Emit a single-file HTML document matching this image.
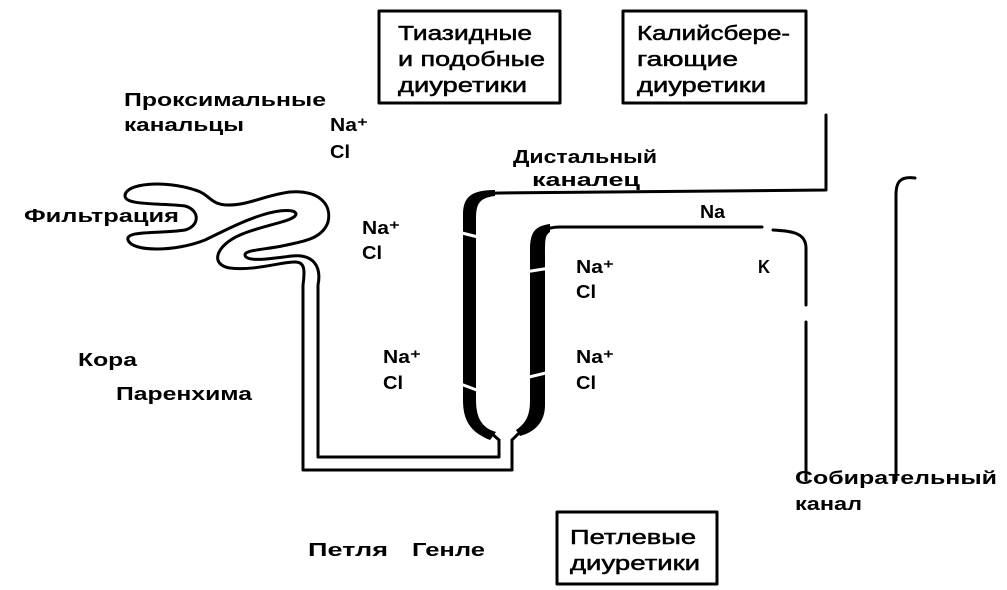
<!DOCTYPE html>
<html><head><meta charset="utf-8"><style>
html,body{margin:0;padding:0;background:#fff;}
svg{display:block;}
text{font-family:"Liberation Sans",sans-serif;fill:#000;}
.b{font-weight:bold;font-size:18px;}
.bx{font-size:20px;stroke:#000;stroke-width:0.5;}
</style></head><body>
<svg width="1007" height="590" viewBox="0 0 1007 590" xmlns="http://www.w3.org/2000/svg">
<g fill="none" stroke="#000" stroke-width="3" stroke-linejoin="round" stroke-linecap="round">
<rect x="379" y="11" width="181" height="92"/>
<rect x="623" y="11" width="183" height="92"/>
<rect x="557" y="512" width="160" height="72"/>
<path d="M195,190 C165,180 125,183 125,196 C125,206 165,203 185,206 C200,210 200,226 185,230 C160,234 125,230 128,240 C132,252 175,252 205,240 C222,232 240,222 262,215 C285,208 300,210 295,216 C290,222 260,226 240,235 C215,246 210,265 230,268 C255,271 280,262 295,262 C305,262 305,270 303,285 L303,470 L512,470 L512,440"/>
<path d="M195,190 C210,194 210,205 228,205 C250,205 265,195 290,192 C320,190 332,205 328,222 C322,240 300,242 282,246 C262,250 240,250 246,257 C252,262 275,258 292,256 C312,254 322,265 318,285 L318,457 L499,457 L499,440"/>
<path d="M499,440 L490,432 C470,425 468,410 468,395 L468,220 C468,198 478,193 500,193 L826,190 L826,115"/>
<path d="M512,440 L520,432 C535,425 538,410 538,395 L538,250 C538,232 545,227 560,227 L762,227"/>
<path d="M773,230 C790,231 806,232 806,248 L806,305 M806,322 L806,480"/>
<path d="M915,178 C900,176 896,182 896,195 L896,480"/>
</g>
<path d="M463,215 C463,198 470,190 495,190 L495,196 C478,198 476,205 476,220 L476,400 C476,418 482,428 496,432 L490,440 C470,432 463,420 463,400 Z" fill="#000"/>
<path d="M530,250 C530,232 535,226 550,224 L550,232 C545,235 545,240 545,255 L545,405 C545,422 535,432 520,436 L516,430 C528,422 530,412 530,400 Z" fill="#000"/>
<g stroke="#fff" stroke-width="3">
<line x1="458" y1="232" x2="482" y2="238"/>
<line x1="458" y1="383" x2="482" y2="392"/>
<line x1="525" y1="272" x2="550" y2="268"/>
<line x1="525" y1="378" x2="550" y2="372"/>
</g>
<text class="bx" x="398" y="40" textLength="134" lengthAdjust="spacingAndGlyphs">Тиазидные</text>
<text class="bx" x="398" y="66" textLength="147" lengthAdjust="spacingAndGlyphs">и подобные</text>
<text class="bx" x="398" y="92" textLength="129" lengthAdjust="spacingAndGlyphs">диуретики</text>
<text class="bx" x="637" y="40" textLength="153" lengthAdjust="spacingAndGlyphs">Калийсбере-</text>
<text class="bx" x="637" y="66" textLength="101" lengthAdjust="spacingAndGlyphs">гающие</text>
<text class="bx" x="637" y="92" textLength="129" lengthAdjust="spacingAndGlyphs">диуретики</text>
<text class="bx" x="570" y="544" textLength="126" lengthAdjust="spacingAndGlyphs">Петлевые</text>
<text class="bx" x="570" y="570" textLength="130" lengthAdjust="spacingAndGlyphs">диуретики</text>
<text class="b" x="124" y="106" textLength="202" lengthAdjust="spacingAndGlyphs">Проксимальные</text>
<text class="b" x="124" y="131" textLength="120" lengthAdjust="spacingAndGlyphs">канальцы</text>
<text class="b" x="330" y="131" textLength="38" lengthAdjust="spacingAndGlyphs">Na⁺</text>
<text class="b" x="330" y="158" textLength="20" lengthAdjust="spacingAndGlyphs">Cl</text>
<text class="b" x="513" y="163" textLength="144" lengthAdjust="spacingAndGlyphs">Дистальный</text>
<text class="b" x="532" y="186" textLength="108" lengthAdjust="spacingAndGlyphs">каналец</text>
<text class="b" x="24" y="222" textLength="155" lengthAdjust="spacingAndGlyphs">Фильтрация</text>
<text class="b" x="362" y="234" textLength="38" lengthAdjust="spacingAndGlyphs">Na⁺</text>
<text class="b" x="362" y="259" textLength="20" lengthAdjust="spacingAndGlyphs">Cl</text>
<text class="b" x="700" y="218" textLength="25" lengthAdjust="spacingAndGlyphs">Na</text>
<text class="b" x="576" y="273" textLength="38" lengthAdjust="spacingAndGlyphs">Na⁺</text>
<text class="b" x="576" y="298" textLength="20" lengthAdjust="spacingAndGlyphs">Cl</text>
<text class="b" x="758" y="273" textLength="12" lengthAdjust="spacingAndGlyphs">K</text>
<text class="b" x="78" y="366" textLength="59" lengthAdjust="spacingAndGlyphs">Кора</text>
<text class="b" x="116" y="400" textLength="136" lengthAdjust="spacingAndGlyphs">Паренхима</text>
<text class="b" x="383" y="363" textLength="38" lengthAdjust="spacingAndGlyphs">Na⁺</text>
<text class="b" x="383" y="389" textLength="20" lengthAdjust="spacingAndGlyphs">Cl</text>
<text class="b" x="576" y="363" textLength="38" lengthAdjust="spacingAndGlyphs">Na⁺</text>
<text class="b" x="576" y="389" textLength="20" lengthAdjust="spacingAndGlyphs">Cl</text>
<text class="b" x="795" y="484" textLength="202" lengthAdjust="spacingAndGlyphs">Собирательный</text>
<text class="b" x="795" y="510" textLength="67" lengthAdjust="spacingAndGlyphs">канал</text>
<text class="b" x="308" y="556" textLength="80" lengthAdjust="spacingAndGlyphs">Петля</text>
<text class="b" x="412" y="556" textLength="73" lengthAdjust="spacingAndGlyphs">Генле</text>
</svg>
</body></html>
